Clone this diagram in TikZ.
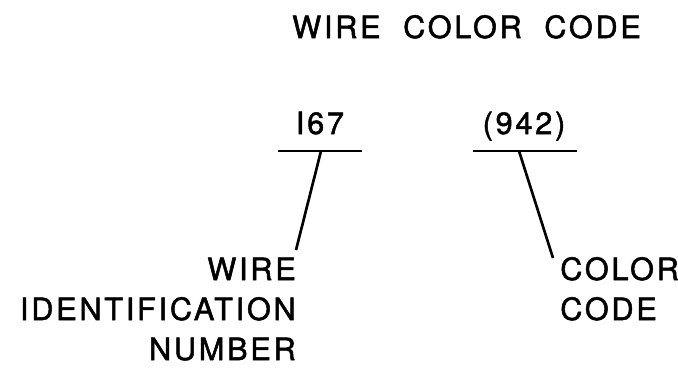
\documentclass[tikz,border=0pt]{standalone}
\usepackage{fontspec}
\setmainfont{TeX Gyre Heros}[LetterSpace=9, FakeBold=1.6]
\usetikzlibrary{positioning}

\begin{document}
\begin{tikzpicture}[
    x=0.75pt, y=-0.75pt,
    lettering/.style={font=\fontsize{23pt}{28pt}\selectfont, inner sep=0pt},
    leader/.style={line width=2pt}
  ]
  \useasboundingbox (0,0) rectangle (678,369);

  % ── titulo ───────────────────────────────────────────────────────
  \node[lettering, anchor=base west] (title) at (292,38) {WIRE\ \ COLOR\ \ CODE};

  % ── numero e codigo ──────────────────────────────────────────────
  \node[lettering, anchor=base] (num) at (320,134) {I67};
  \node[lettering, anchor=base] (cod) at (524,134) {(942)};

  \coordinate (numW) at (278,151);
  \coordinate (numE) at (362,151);
  \coordinate (codW) at (473,151);
  \coordinate (codE) at (577,151);
  \draw[leader] (numW) -- (numE);
  \draw[leader] (codW) -- (codE);

  % ── legendas ─────────────────────────────────────────────────────
  \node[lettering, anchor=base east] (wire)  at (296,280) {WIRE};
  \node[lettering, anchor=base east] (ident) at (296,320) {IDENTIFICATION};
  \node[lettering, anchor=base east] (numb)  at (296,360) {NUMBER};

  \node[lettering, anchor=base west] (color) at (560,280) {COLOR};
  \node[lettering, anchor=base west] (code)  at (560,320) {CODE};

  % ── linhas de chamada ────────────────────────────────────────────
  \coordinate (numM) at (321,151);
  \coordinate (codM) at (519,151);
  \coordinate (wireTip)  at (296,250);
  \coordinate (colorTip) at (553,258);
  \draw[leader] (numM) -- (wireTip);
  \draw[leader] (codM) -- (colorTip);

\end{tikzpicture}
\end{document}
